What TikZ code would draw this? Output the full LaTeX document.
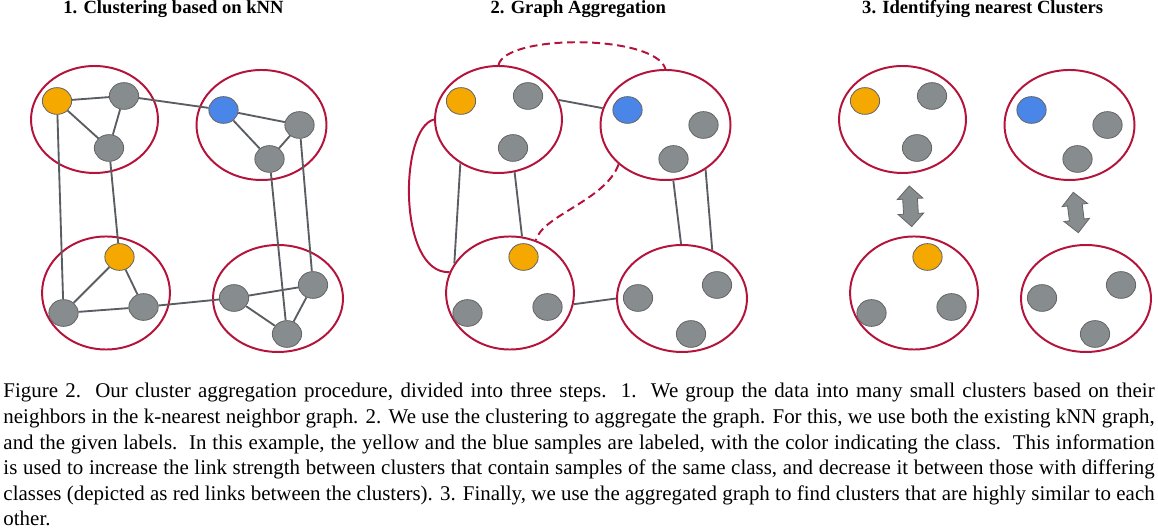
\documentclass[tikz,border=0pt]{standalone}
\usepackage{fontspec}
\setmainfont{Liberation Serif}
\usetikzlibrary{shapes.geometric,shapes.arrows}

\definecolor{clusterred}{RGB}{180,20,60}
\definecolor{sampleyellow}{RGB}{244,168,0}
\definecolor{sampleblue}{RGB}{74,134,232}
\definecolor{samplegray}{RGB}{135,140,143}
\definecolor{linkgray}{RGB}{90,94,98}

\begin{document}
\begin{tikzpicture}[
  x=0.43pt, y=-0.43pt,
  title/.style={font=\fontsize{8}{9.6}\selectfont\bfseries, anchor=base, inner sep=0pt},
  cluster/.style={draw=clusterred, line width=0.85pt, ellipse, inner sep=0pt},
  sample/.style={draw=black!60, line width=0.35pt, ellipse, inner sep=0pt, minimum width=12.6pt, minimum height=11.5pt, fill=samplegray},
  knn/.style={draw=linkgray, line width=0.8pt},
  redlink/.style={draw=clusterred, line width=0.85pt},
  simarrow/.style={double arrow, draw=black!60, fill=samplegray, line width=0.35pt, inner xsep=0pt, inner ysep=3pt, minimum height=17.5pt, minimum width=10.7pt, double arrow head extend=2.35pt}
]
\useasboundingbox (0,0) rectangle (1158,530);

% titles
\node[title] (t1) at (173.5,14) {1. Clustering based on kNN};
\node[title] (t2) at (578.3,14) {2. Graph Aggregation};
\node[title] (t3) at (982.7,14) {3. Identifying nearest Clusters};

% the same four clusters in every step
\foreach \p/\dx in {1/0,2/404,3/808}{
  \node[cluster, minimum width=54.6pt, minimum height=46pt] (A\p) at (\dx+94.5,119.5) {};
  \node[cluster, minimum width=55.9pt, minimum height=47.3pt] (B\p) at (\dx+261.5,125) {};
  \node[cluster, minimum width=55pt, minimum height=48.6pt] (C\p) at (\dx+106,293) {};
  \node[cluster, minimum width=55.9pt, minimum height=46pt] (D\p) at (\dx+278,298.5) {};
  \node[sample, fill=sampleyellow] (A\p a) at (\dx+57,101) {};
  \node[sample] (A\p b) at (\dx+124,96) {};
  \node[sample] (A\p c) at (\dx+109,148) {};
  \node[sample, fill=sampleblue] (B\p a) at (\dx+223.5,110) {};
  \node[sample] (B\p b) at (\dx+299.5,125) {};
  \node[sample] (B\p c) at (\dx+269.5,159) {};
  \node[sample, fill=sampleyellow] (C\p a) at (\dx+119.5,257) {};
  \node[sample] (C\p b) at (\dx+63.5,313) {};
  \node[sample] (C\p c) at (\dx+143.5,307) {};
  \node[sample] (D\p a) at (\dx+234,298) {};
  \node[sample] (D\p b) at (\dx+313,285) {};
  \node[sample] (D\p c) at (\dx+287,334) {};
}

% step 1: kNN graph
\draw[knn] (A1a) -- (A1b) (A1a) -- (A1c) (A1b) -- (A1c)
  (B1a) -- (B1b) (B1a) -- (B1c) (B1b) -- (B1c)
  (C1a) -- (C1b) (C1a) -- (C1c) (C1b) -- (C1c)
  (D1a) -- (D1b) (D1a) -- (D1c) (D1b) -- (D1c)
  (A1b) -- (B1a) (A1a) -- (C1b) (A1c) -- (C1a)
  (C1c) -- (D1a) (B1c) -- (D1c) (B1b) -- (D1b);

% step 2: aggregated graph
\draw[knn] (A2.18) -- (B2.165) (A2.229) -- (C2.152) (A2.287) -- (C2.78)
  (B2.278) -- (D2.91) (B2.312) -- (D2.58) (C2.350) -- (D2.180);
\draw[redlink] (A2.west) .. controls +(-35,8.5) and +(-52,2) .. (C2.161);
\draw[redlink, dash pattern=on 3.4pt off 2pt] (A2.north) .. controls +(7,-31) and +(-11,-35) .. (B2.north);
\draw[redlink, dash pattern=on 3.4pt off 2pt] (B2.220) .. controls +(-13,36) and +(7,-25) .. (C2.64);

% step 3: nearest clusters
\node[simarrow, rotate=93.4] (sim1) at (910.5,206.3) {};
\node[simarrow, rotate=97.2] (sim2) at (1075.8,212.5) {};

% caption
\node[anchor=base west, text width=495pt, align=justify, inner sep=0pt, font=\fontsize{9}{11}\selectfont] (caption) at (3,398)
{Figure 2.\ \ Our cluster aggregation procedure, divided into three steps.\ \ 1.\ \ We group the data into many small clusters based on their\linebreak
neighbors in the k-nearest neighbor graph. 2. We use the clustering to aggregate the graph. For this, we use both the existing kNN graph,\linebreak
and the given labels.\ \ In this example, the yellow and the blue samples are labeled, with the color indicating the class.\ \ This information\linebreak
is used to increase the link strength between clusters that contain samples of the same class, and decrease it between those with differing\linebreak
classes (depicted as red links between the clusters). 3. Finally, we use the aggregated graph to find clusters that are highly similar to each\linebreak
other.};
\end{tikzpicture}
\end{document}
